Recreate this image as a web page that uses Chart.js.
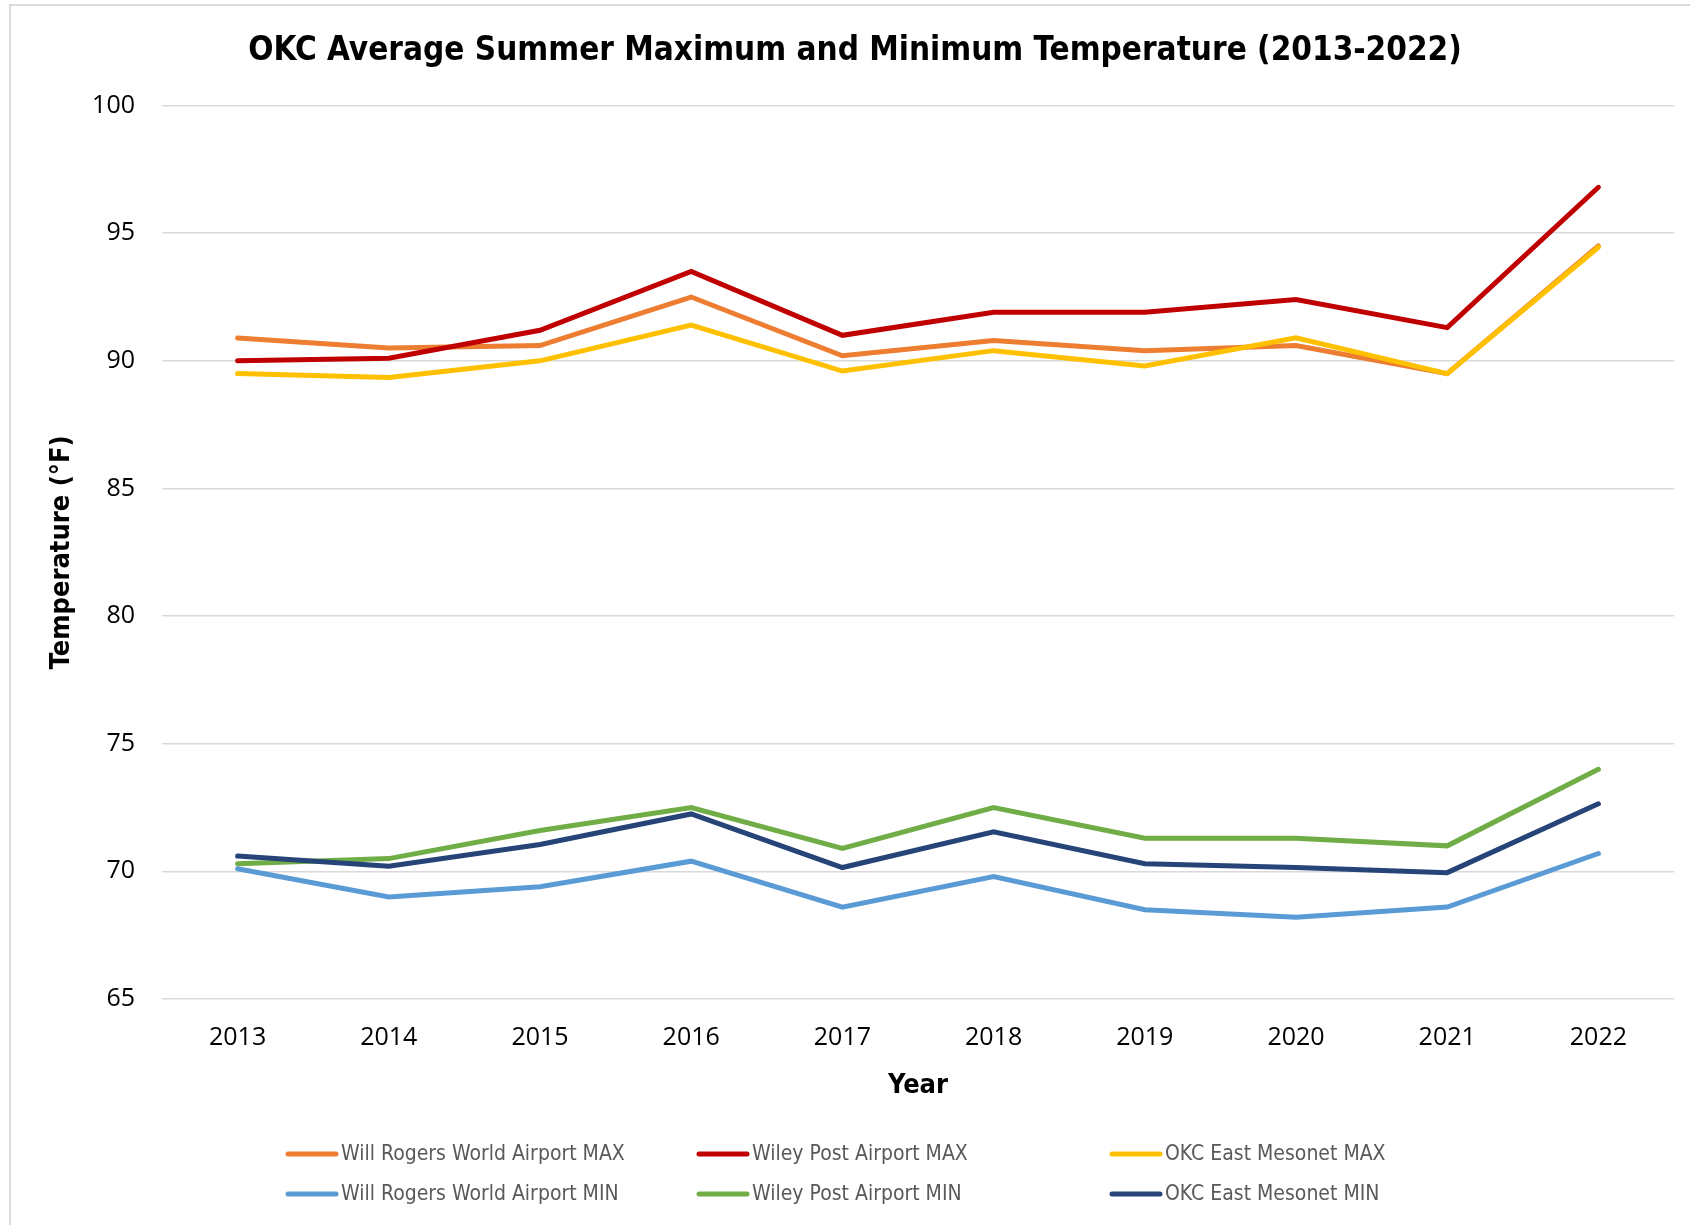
<!DOCTYPE html>
<html>
<head>
<meta charset="utf-8">
<script src="https://cdn.jsdelivr.net/npm/chart.js@4.4.0/dist/chart.umd.min.js"></script>
<style>
html,body{margin:0;padding:0;background:#fff;}
#wrap{position:relative;width:1690px;height:1225px;}
</style>
</head>
<body>
<div id="wrap"><canvas id="c"></canvas></div>
<script>
const years = ['2013','2014','2015','2016','2017','2018','2019','2020','2021','2022'];
const willRogersMax = [90.9, 90.5, 90.6, 92.5, 90.2, 90.8, 90.4, 90.6, 89.5, 94.5];
const wileyPostMax  = [90.0, 90.1, 91.2, 93.5, 91.0, 91.9, 91.9, 92.4, 91.3, 96.8];
const okcEastMax    = [89.5, 89.35, 90.0, 91.4, 89.6, 90.4, 89.8, 90.9, 89.5, 94.45];
const willRogersMin = [70.1, 69.0, 69.4, 70.4, 68.6, 69.8, 68.5, 68.2, 68.6, 70.7];
const wileyPostMin  = [70.3, 70.5, 71.6, 72.5, 70.9, 72.5, 71.3, 71.3, 71.0, 74.0];
const okcEastMin    = [70.6, 70.2, 71.05, 72.25, 70.15, 71.55, 70.3, 70.15, 69.95, 72.65];
const seriesNames = ['Will Rogers World Airport MAX','Wiley Post Airport MAX','OKC East Mesonet MAX',
                     'Will Rogers World Airport MIN','Wiley Post Airport MIN','OKC East Mesonet MIN'];
const seriesColors = ['#ED7D31','#C00000','#FFC000','#5B9BD5','#70AD47','#264478'];
const seriesValues = [willRogersMax, wileyPostMax, okcEastMax, willRogersMin, wileyPostMin, okcEastMin];
const yTicks = {min: 65, max: 100, step: 5};

const narrow = '"Liberation Sans Narrow", "DejaVu Sans Condensed", "Open Sans", sans-serif';
const tickFont = '"Open Sans", sans-serif';

const borderPlugin = {
  id: 'frame',
  beforeDraw(chart) {
    const ctx = chart.ctx;
    ctx.save();
    ctx.strokeStyle = '#d9d9d9';
    ctx.lineWidth = 2;
    ctx.beginPath();
    ctx.moveTo(10, chart.height);
    ctx.lineTo(10, 5);
    ctx.lineTo(chart.width, 5);
    ctx.stroke();
    ctx.restore();
  }
};

const legendPlugin = {
  id: 'gridLegend',
  afterDraw(chart) {
    const ctx = chart.ctx;
    const colX = [286, 697, 1110];
    const rowY = [1154, 1194];
    ctx.save();
    ctx.font = '21px ' + narrow;
    ctx.textBaseline = 'middle';
    ctx.textAlign = 'left';
    chart.data.datasets.forEach((ds, i) => {
      const x = colX[i % 3], y = rowY[Math.floor(i / 3)];
      ctx.strokeStyle = ds.borderColor;
      ctx.lineWidth = 5;
      ctx.lineCap = 'round';
      ctx.beginPath();
      ctx.moveTo(x + 2, y);
      ctx.lineTo(x + 50, y);
      ctx.stroke();
      ctx.fillStyle = '#595959';
      ctx.fillText(ds.label, x + 55, y + 1);
    });
    ctx.restore();
  }
};

new Chart(document.getElementById('c'), {
  type: 'line',
  data: {
    labels: years,
    datasets: seriesNames.map((name, i) => ({
      label: name,
      data: seriesValues[i],
      borderColor: seriesColors[i],
      backgroundColor: seriesColors[i],
      borderWidth: 5,
      borderCapStyle: 'round',
      pointRadius: 0,
      pointHoverRadius: 0,
      tension: 0,
      fill: false,
      order: -i
    }))
  },
  options: {
    responsive: true,
    maintainAspectRatio: false,
    animation: false,
    layout: { padding: { left: 36, right: 16, top: 25, bottom: 122.8 } },
    plugins: {
      legend: { display: false },
      tooltip: { enabled: false },
      title: {
        display: true,
        text: 'OKC Average Summer Maximum and Minimum Temperature (2013-2022)',
        color: '#000',
        font: { family: narrow, size: 33, weight: 'bold', lineHeight: 1.2 },
        padding: { top: 7, bottom: 34 }
      }
    },
    scales: {
      x: {
        offset: true,
        grid: { display: false, drawTicks: false },
        border: { display: false },
        ticks: { color: '#000', font: { family: tickFont, size: 25 }, padding: 24, maxRotation: 0 },
        title: {
          display: true, text: 'Year', color: '#000',
          font: { family: narrow, size: 27, weight: 'bold', lineHeight: 1.2 },
          padding: { top: 0, bottom: 0 }
        },
        afterFit(scale) { scale.height = 103.2; }
      },
      y: {
        min: yTicks.min, max: yTicks.max,
        grid: { color: '#d9d9d9', lineWidth: 1.5, drawTicks: false },
        border: { display: false },
        ticks: { stepSize: yTicks.step, color: '#000', font: { family: tickFont, size: 25 }, padding: 27 },
        title: {
          display: true, text: 'Temperature (°F)', color: '#000',
          font: { family: narrow, size: 27, weight: 'bold', lineHeight: 1.2 },
          padding: { top: 10, bottom: 0 }
        },
        afterFit(scale) { scale.width = 126; }
      }
    }
  },
  plugins: [borderPlugin, legendPlugin]
});
</script>
</body>
</html>
